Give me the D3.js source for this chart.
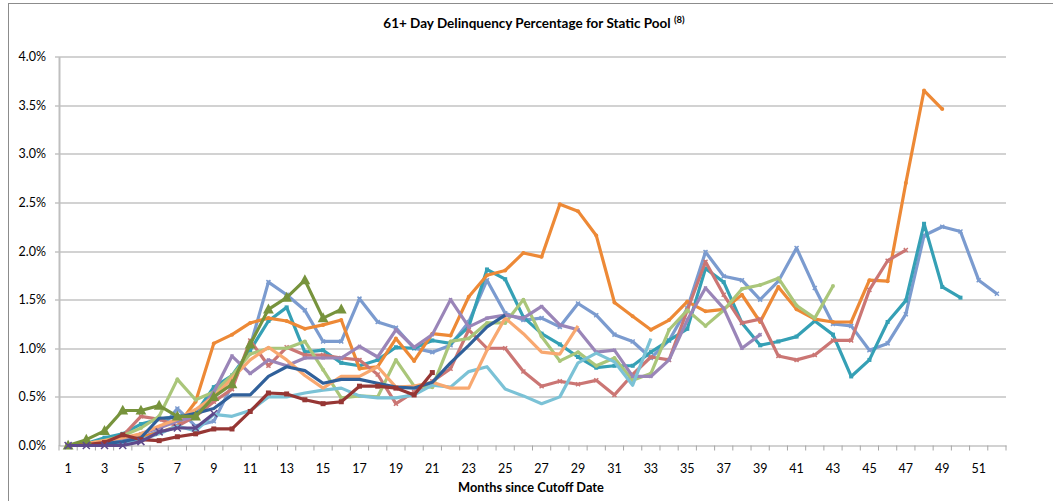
<!DOCTYPE html>
<html>
<head>
<meta charset="utf-8">
<script src="https://cdnjs.cloudflare.com/ajax/libs/d3/7.8.5/d3.min.js"></script>
<style>
  body { margin: 0; background: #fff; }
  svg text { font-family: Lato, "Open Sans", sans-serif; fill: #000; }
</style>
</head>
<body>
<div id="chart"></div>
<script>
// values in percent, first value = month 1
var months = d3.range(1, 53);
var tickMonths = months.filter(function(m) { return m % 2 === 1; });
var yTicks = [0, 0.5, 1.0, 1.5, 2.0, 2.5, 3.0, 3.5, 4.0];

var poolA = [0, 0, 0.01, 0.03, 0.08, 0.15, 0.38, 0.2, 0.25, 0.62, 1.02,
  1.68, 1.55, 1.39, 1.07, 1.07, 1.51, 1.27, 1.21, 1.0,
  0.96, 1.03, 1.27, 1.70, 1.36, 1.29, 1.31, 1.22, 1.46, 1.34,
  1.14, 1.07, 0.90, 1.08, 1.41, 1.99, 1.74, 1.70, 1.50, 1.69,
  2.03, 1.62, 1.25, 1.23, 0.98, 1.05, 1.35, 2.16, 2.25, 2.20, 1.70, 1.56];
var poolB = [0, 0.02, 0.08, 0.12, 0.22, 0.27, 0.3, 0.33, 0.6, 0.72,
  0.98, 1.28, 1.42, 0.96, 0.98, 0.85, 0.82, 0.88, 1.01, 1.0,
  1.08, 1.05, 1.22, 1.81, 1.71, 1.32, 1.15, 1.04, 0.91, 0.80,
  0.82, 0.82, 0.96, 1.08, 1.20, 1.82, 1.68, 1.26, 1.03, 1.07,
  1.12, 1.28, 1.14, 0.71, 0.88, 1.27, 1.49, 2.28, 1.63, 1.52];
var poolC = [0, 0.01, 0.04, 0.06, 0.09, 0.13, 0.2, 0.45,
  1.05, 1.14, 1.26, 1.31, 1.28, 1.20, 1.24, 1.29, 0.79, 0.81, 1.10, 0.87,
  1.15, 1.13, 1.53, 1.75, 1.80, 1.98, 1.94, 2.48, 2.41, 2.16,
  1.47, 1.33, 1.19, 1.29, 1.48, 1.38, 1.40, 1.55, 1.27, 1.63,
  1.40, 1.30, 1.27, 1.27, 1.70, 1.69, 2.70, 3.65, 3.46];
var poolD = [0, 0.01, 0.04, 0.1, 0.3, 0.27, 0.2, 0.3, 0.45, 0.58,
  1.08, 0.82, 1.01, 0.93, 0.93, 0.90, 0.88, 0.73, 0.43, 0.55,
  0.66, 0.79, 1.19, 1.0, 1.0, 0.76, 0.61, 0.66, 0.63, 0.67,
  0.52, 0.73, 0.91, 0.88, 1.39, 1.89, 1.55, 1.26, 1.30, 0.92,
  0.88, 0.93, 1.08, 1.08, 1.60, 1.90, 2.01];
var poolE = [0, 0.02, 0.05, 0.1, 0.18, 0.3, 0.68, 0.47, 0.55, 0.72,
  0.94, 1.0, 1.0, 1.07, 0.78, 0.49, 0.51, 0.50, 0.88, 0.61,
  0.60, 1.07, 1.10, 1.26, 1.26, 1.50, 1.12, 0.87, 0.96, 0.82,
  0.90, 0.67, 0.74, 1.19, 1.39, 1.23, 1.39, 1.61, 1.65, 1.72,
  1.44, 1.31, 1.64];
var poolF = [0, 0.01, 0.03, 0.06, 0.12, 0.18, 0.25, 0.3, 0.55, 0.92,
  0.74, 0.88, 0.82, 0.90, 0.90, 0.90, 1.02, 0.91, 1.19, 1.01,
  1.14, 1.50, 1.22, 1.31, 1.34, 1.31, 1.43, 1.24, 1.19, 0.96,
  0.98, 0.71, 0.71, 0.88, 1.29, 1.62, 1.41, 1.00, 1.14];
var poolG = [0, 0, 0.02, 0.04, 0.06, 0.12, 0.2, 0.15, 0.32, 0.30,
  0.36, 0.50, 0.50, 0.54, 0.57, 0.59, 0.51, 0.49, 0.49, 0.52,
  0.62, 0.60, 0.76, 0.81, 0.58, 0.51, 0.43, 0.50, 0.85, 0.95,
  0.86, 0.62, 1.10];
var poolH = [0, 0.02, 0.05, 0.08, 0.12, 0.2, 0.27, 0.37, 0.5, 0.69,
  0.88, 1.01, 0.88, 0.72, 0.59, 0.71, 0.71, 0.81, 0.60, 0.61,
  0.65, 0.59, 0.59, 0.98, 1.31, 1.15, 0.96, 0.94, 1.23];
var poolI = [0, 0, 0.02, 0.04, 0.08, 0.28, 0.29, 0.33, 0.38, 0.52,
  0.52, 0.71, 0.81, 0.77, 0.64, 0.68, 0.68, 0.64, 0.60, 0.59,
  0.65, 0.85, 1.03, 1.22, 1.34];
var poolJ = [0, 0.01, 0.03, 0.11, 0.06, 0.05, 0.09, 0.12, 0.17, 0.17,
  0.35, 0.54, 0.53, 0.47, 0.43, 0.45, 0.61, 0.61, 0.59, 0.52, 0.75];
var poolK = [0, 0.06, 0.15, 0.36, 0.36, 0.41, 0.30, 0.30, 0.50, 0.63,
  1.04, 1.40, 1.52, 1.70, 1.31, 1.40];
var poolL = [0, 0, 0, 0, 0.04, 0.14, 0.18, 0.18, 0.33];

var series = [
  {values: poolA, color: "#7b9bcf", marker: "x", size: 4},
  {values: poolB, color: "#35a0b5", marker: "square", size: 4},
  {values: poolC, color: "#ed8936", marker: "circle", size: 3},
  {values: poolD, color: "#cb7674", marker: "x", size: 4},
  {values: poolE, color: "#aac67a", marker: "circle", size: 3},
  {values: poolF, color: "#9a85b8", marker: "x", size: 3},
  {values: poolG, color: "#7bc2d6", marker: "none", size: 0},
  {values: poolH, color: "#f8a870", marker: "none", size: 0},
  {values: poolI, color: "#30609a", marker: "none", size: 0},
  {values: poolJ, color: "#963634", marker: "square", size: 5},
  {values: poolK, color: "#77933c", marker: "triangle", size: 9},
  {values: poolL, color: "#5f4a8b", marker: "x", size: 7}
];

var svgWidth = 1053, svgHeight = 501;
var margin = {top: 56.5, left: 59, right: 47, bottom: 55.5};
var width = svgWidth - margin.left - margin.right;
var height = svgHeight - margin.top - margin.bottom;

var svg = d3.select("#chart").append("svg")
  .attr("width", svgWidth)
  .attr("height", svgHeight);

// outer chart frame (partly cropped)
svg.append("rect")
  .attr("x", 8.5).attr("y", 3.5)
  .attr("width", 1100).attr("height", 600)
  .attr("fill", "none").attr("stroke", "#8c8c8c");

var chartGroup = svg.append("g")
  .attr("transform", `translate(${margin.left}, ${margin.top})`);

var x = d3.scaleBand().domain(months).range([0, width]).paddingInner(0).paddingOuter(0);
var y = d3.scaleLinear().domain([0, 4]).range([height, 0]);
var xc = function(m) { return x(m) + x.bandwidth() / 2; };

// gridlines
chartGroup.append("g")
  .selectAll("line").data(yTicks.slice(1)).enter().append("line")
  .attr("x1", -4).attr("x2", width)
  .attr("y1", d => Math.round(y(d)) + 0.5).attr("y2", d => Math.round(y(d)) + 0.5)
  .attr("stroke", "#a6a6a6").attr("stroke-width", 1.2);

// y axis
var leftAxis = d3.axisLeft(y).tickValues(yTicks)
  .tickFormat(d => d.toFixed(1) + "%").tickSize(0).tickPadding(13);
var yAxis = chartGroup.append("g").call(leftAxis);
yAxis.select(".domain").attr("stroke", "#bfbfbf").attr("stroke-width", 2);
yAxis.selectAll("text").attr("font-size", 12.5);

// x axis
var bottomAxis = d3.axisBottom(x).tickValues(tickMonths).tickSize(0).tickPadding(19);
var xAxis = chartGroup.append("g")
  .attr("transform", `translate(0, ${height})`)
  .call(bottomAxis);
xAxis.select(".domain").attr("stroke", "#a6a6a6").attr("stroke-width", 1.2);
xAxis.selectAll("text").attr("font-size", 12.5);
xAxis.selectAll(".tickmark").data(months.concat([53])).enter().append("line")
  .attr("x1", d => d <= 52 ? x(d) : width).attr("x2", d => d <= 52 ? x(d) : width)
  .attr("y1", 0).attr("y2", 5)
  .attr("stroke", "#a6a6a6");

// lines and markers
var line = d3.line()
  .x((d, i) => xc(months[i]))
  .y(d => y(d));

series.forEach(function(s) {
  var g = chartGroup.append("g");
  g.append("path")
    .datum(s.values)
    .attr("fill", "none")
    .attr("stroke", s.color)
    .attr("stroke-width", 3.2)
    .attr("stroke-linejoin", "round")
    .attr("d", line);
  if (s.marker === "none") return;
  var pts = g.selectAll(".m").data(s.values).enter();
  var r = s.size;
  if (s.marker === "square") {
    pts.append("rect")
      .attr("x", (d, i) => xc(months[i]) - r / 2).attr("y", d => y(d) - r / 2)
      .attr("width", r).attr("height", r).attr("fill", s.color);
  } else if (s.marker === "circle") {
    pts.append("circle")
      .attr("cx", (d, i) => xc(months[i])).attr("cy", d => y(d))
      .attr("r", r / 2 + 0.5).attr("fill", s.color);
  } else if (s.marker === "triangle") {
    pts.append("path")
      .attr("transform", (d, i) => `translate(${xc(months[i])},${y(d)})`)
      .attr("d", `M0,${-r * 0.65}L${r * 0.6},${r * 0.45}L${-r * 0.6},${r * 0.45}Z`)
      .attr("fill", s.color);
  } else if (s.marker === "x") {
    pts.append("path")
      .attr("transform", (d, i) => `translate(${xc(months[i])},${y(d)})`)
      .attr("d", `M${-r / 2},${-r / 2}L${r / 2},${r / 2}M${-r / 2},${r / 2}L${r / 2},${-r / 2}`)
      .attr("stroke", s.color).attr("stroke-width", 1.5);
  }
});

// title
var title = svg.append("text")
  .attr("x", 534).attr("y", 28)
  .attr("text-anchor", "middle")
  .attr("font-size", 13.5)
  .attr("font-weight", "bold");
title.append("tspan").text("61+ Day Delinquency Percentage for Static Pool ");
title.append("tspan").attr("font-size", 9.5).attr("dy", -5).text("(8)");

// x axis title
svg.append("text")
  .attr("x", 531).attr("y", 492)
  .attr("text-anchor", "middle")
  .attr("font-size", 12.8)
  .attr("font-weight", "bold")
  .text("Months since Cutoff Date");
</script>
</body>
</html>
